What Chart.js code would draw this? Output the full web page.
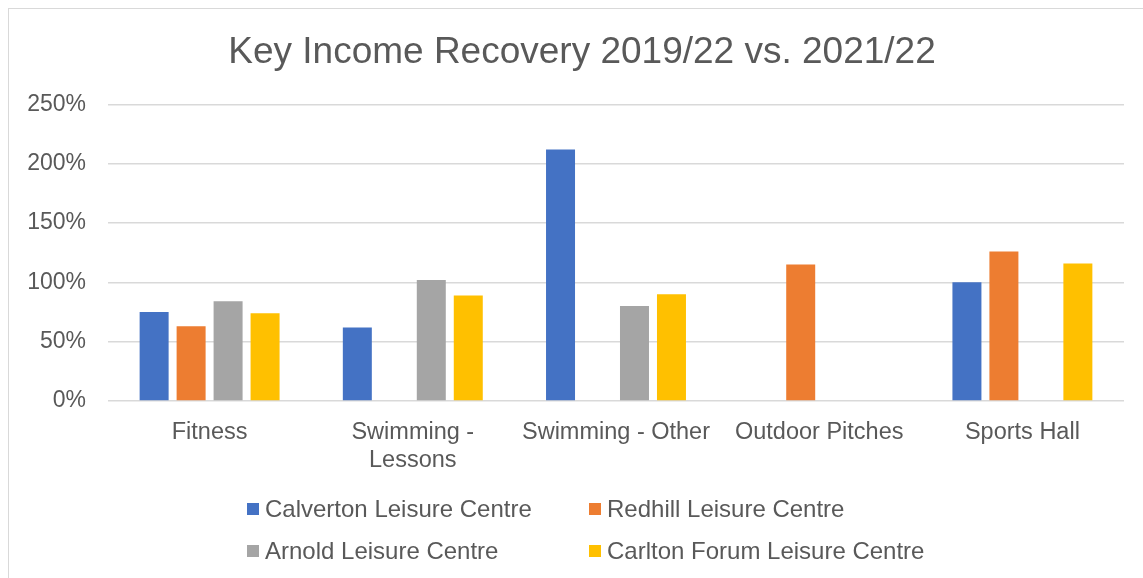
<!DOCTYPE html>
<html>
<head>
<meta charset="utf-8">
<title>Key Income Recovery</title>
<script src="https://cdn.jsdelivr.net/npm/chart.js@4"></script>
<style>
    html, body { margin: 0; padding: 0; background: #fff; overflow: hidden; }
    #moldura {
        position: absolute;
        left: 8px;
        top: 8px;
        width: 1146px;
        height: 580px;
        border: 1px solid #d9d9d9;
        background: #fff;
    }
    #grafico { display: block; }
</style>
</head>
<body>
<div id="moldura">
    <canvas id="grafico" width="1146" height="570"></canvas>
</div>
<script>
// Categories and series (recovery as % of the pre-covid year)
const categorias = ['Fitness', ['Swimming -', 'Lessons'], 'Swimming - Other', 'Outdoor Pitches', 'Sports Hall'];
const centros = ['Calverton Leisure Centre', 'Redhill Leisure Centre', 'Arnold Leisure Centre', 'Carlton Forum Leisure Centre'];
const calverton = [75, 62, 212, null, 100];
const redhill = [63, null, null, 115, 126];
const arnold = [84, 102, 80, null, null];
const carlton = [74, 89, 90, null, 116];
const ticksY = [0, 50, 100, 150, 200, 250];

const cores = ['#4472C4', '#ED7D31', '#A5A5A5', '#FFC000'];
const corTexto = '#595959';
const fonte = 'Liberation Sans, Arial, sans-serif';

document.addEventListener('DOMContentLoaded', function() {
    const series = [calverton, redhill, arnold, carlton];

    // Legend in two columns, drawn by hand under the axis
    const legendaDuasColunas = {
        id: 'legendaDuasColunas',
        afterDraw(chart) {
            const ctx = chart.ctx;
            const larguraColuna = 342;
            const esquerda = chart.width / 2 - 335;
            const linhas = [chart.chartArea.bottom + 108, chart.chartArea.bottom + 150];
            ctx.save();
            ctx.font = '24px ' + fonte;
            ctx.textBaseline = 'middle';
            ctx.textAlign = 'left';
            chart.data.datasets.forEach(function(ds, i) {
                const x = esquerda + (i % 2) * larguraColuna;
                const y = linhas[Math.floor(i / 2)];
                ctx.fillStyle = ds.backgroundColor;
                ctx.fillRect(x, y - 6, 12, 12);
                ctx.fillStyle = corTexto;
                ctx.fillText(ds.label, x + 18, y + 1);
            });
            ctx.restore();
        }
    };

    const ctx = document.getElementById('grafico').getContext('2d');
    new Chart(ctx, {
        type: 'bar',
        data: {
            labels: categorias,
            datasets: series.map(function(valores, i) {
                return {
                    label: centros[i],
                    data: valores,
                    backgroundColor: cores[i],
                    categoryPercentage: 0.728,
                    barPercentage: 0.784
                };
            })
        },
        options: {
            responsive: false,
            animation: false,
            layout: {
                padding: { left: 0, right: 0, top: 0, bottom: 98 }
            },
            plugins: {
                legend: { display: false },
                tooltip: { enabled: false },
                title: {
                    display: true,
                    text: 'Key Income Recovery 2019/22 vs. 2021/22',
                    color: corTexto,
                    font: { family: fonte, size: 37, weight: 'normal' },
                    padding: { top: 22, bottom: 29 }
                }
            },
            scales: {
                x: {
                    grid: { display: false },
                    border: { display: false },
                    ticks: {
                        color: corTexto,
                        font: { family: fonte, size: 23.5 },
                        padding: 9,
                        maxRotation: 0,
                        autoSkip: false
                    },
                    afterFit: function(scale) { scale.height = 80; }
                },
                y: {
                    min: 0,
                    max: 250,
                    afterBuildTicks: function(scale) {
                        scale.ticks = ticksY.map(function(v) { return { value: v }; });
                    },
                    grid: { color: '#d9d9d9', lineWidth: 1.5, drawTicks: false },
                    border: { display: false },
                    ticks: {
                        color: corTexto,
                        font: { family: fonte, size: 23 },
                        padding: 22,
                        callback: function(v) { return v + '%'; }
                    },
                    afterFit: function(scale) { scale.width = 99; }
                },
                // empty right margin, keeps the title centred on the whole frame
                margemDireita: {
                    position: 'right',
                    grid: { display: false },
                    border: { display: false },
                    ticks: { display: false },
                    afterFit: function(scale) { scale.width = 31; }
                }
            }
        },
        plugins: [legendaDuasColunas]
    });
});
</script>
</body>
</html>
